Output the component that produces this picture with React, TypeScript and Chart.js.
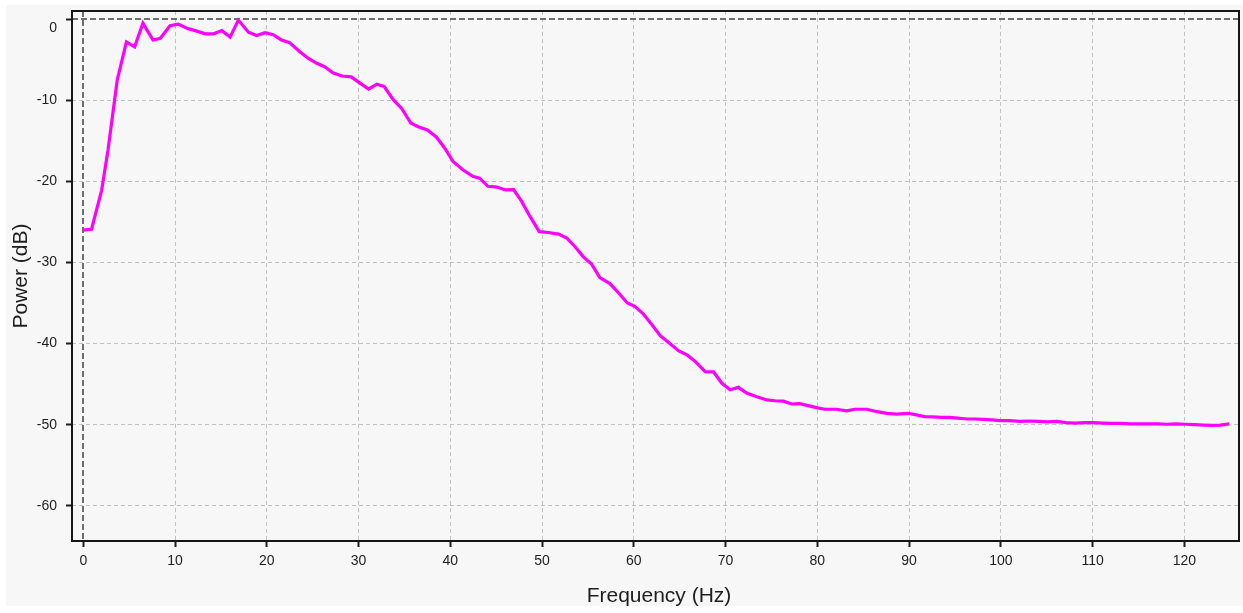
import { useEffect, useRef } from "react";
import { Chart, registerables } from "chart.js";

Chart.register(...registerables);

// Power spectrum: frequency bins (Hz) and their power (dB)
const frequencyHz = [
  0, 0.9, 2.0, 2.7, 3.7, 4.7, 5.6, 6.5, 7.6, 8.4, 9.45, 10.35, 11.3, 12.2, 13.3, 14.2,
  15.1, 16.0, 16.9, 18.0, 18.9, 19.8, 20.7, 21.6, 22.5, 23.6, 24.5, 25.4, 26.3, 27.2,
  28.2, 29.2, 30.2, 31.1, 32.0, 32.8, 33.8, 34.7, 35.7, 36.5, 37.5, 38.5, 39.4, 40.3,
  41.4, 42.5, 43.2, 44.1, 45.1, 46.0, 46.9, 47.8, 48.7, 49.7, 50.7, 51.8, 52.7, 53.6,
  54.5, 55.4, 56.3, 57.4, 58.3, 59.3, 60.1, 61.0, 62.0, 62.9, 63.9, 64.9, 65.8, 66.7,
  67.8, 68.7, 69.6, 70.5, 71.4, 72.3, 73.4, 74.5, 75.4, 76.3, 77.2, 78.1, 79.0, 79.9,
  80.8, 82.1, 83.2, 84.1, 85.4, 86.5, 87.6, 88.65, 89.9, 90.8, 91.7, 92.6, 93.5, 94.4,
  95.3, 96.3, 97.2, 98.1, 99.0, 99.9, 100.9, 102.1, 103.1, 104.1, 105.1, 106.1, 107.1,
  108.1, 109.1, 110.1, 111.1, 112.1, 113.1, 114.1, 115.1, 116.1, 117.1, 118.1, 119.1,
  120.1, 121.1, 122.1, 123.0, 123.9, 124.9,
];

const powerDb = [
  -26.0, -25.9, -21.1, -16.1, -7.5, -2.8, -3.4, -0.5, -2.55, -2.35, -0.8, -0.6, -1.1, -1.4,
  -1.8, -1.8, -1.4, -2.2, -0.1, -1.6, -2.0, -1.65, -1.9, -2.55, -2.9, -4.0, -4.8, -5.4,
  -5.85, -6.6, -7.0, -7.1, -7.9, -8.6, -8.0, -8.3, -9.95, -11.0, -12.8, -13.25, -13.65,
  -14.55, -15.9, -17.55, -18.6, -19.4, -19.6, -20.6, -20.7, -21.05, -21.0, -22.5, -24.35,
  -26.2, -26.3, -26.5, -27.0, -28.05, -29.3, -30.2, -31.85, -32.6, -33.7, -35.0, -35.4,
  -36.3, -37.7, -39.05, -39.95, -40.9, -41.4, -42.2, -43.5, -43.5, -44.9, -45.7, -45.4,
  -46.1, -46.55, -46.95, -47.05, -47.1, -47.45, -47.4, -47.65, -47.9, -48.1, -48.1, -48.3,
  -48.1, -48.1, -48.4, -48.6, -48.7, -48.6, -48.8, -49.0, -49.05, -49.1, -49.1, -49.2,
  -49.3, -49.3, -49.35, -49.4, -49.5, -49.5, -49.6, -49.55, -49.6, -49.65, -49.6, -49.75,
  -49.8, -49.75, -49.75, -49.8, -49.85, -49.85, -49.9, -49.9, -49.9, -49.9, -49.95, -49.9,
  -49.95, -50.0, -50.05, -50.1, -50.05, -49.9,
];

const xTickValues = [0, 10, 20, 30, 40, 50, 60, 70, 80, 90, 100, 110, 120];
const yTickValues = [0, -10, -20, -30, -40, -50, -60];

const xTitle = "Frequency (Hz)";
const yTitle = "Power (dB)";

const FONT = "'Liberation Sans', Arial, sans-serif";

const chromePlugin = {
  id: "spectrumChrome",
  beforeDraw(chart: any) {
    const { ctx, width, height } = chart;
    ctx.save();
    ctx.fillStyle = "#ffffff";
    ctx.fillRect(0, 0, width, height);
    ctx.fillStyle = "#f7f7f7";
    ctx.fillRect(6, 5, width - 6, height - 12);
    ctx.restore();
  },
  beforeDatasetsDraw(chart: any) {
    // darker dashed lines through the origin
    const { ctx, chartArea, scales } = chart;
    const x0 = Math.round(scales.x.getPixelForValue(0));
    const y0 = Math.round(scales.y.getPixelForValue(0));
    ctx.save();
    ctx.strokeStyle = "#6e6e6e";
    ctx.lineWidth = 2;
    ctx.setLineDash([6, 3]);
    ctx.beginPath();
    ctx.moveTo(x0, chartArea.top);
    ctx.lineTo(x0, chartArea.bottom);
    ctx.moveTo(chartArea.left, y0);
    ctx.lineTo(chartArea.right, y0);
    ctx.stroke();
    ctx.restore();
  },
  afterDraw(chart: any) {
    const { ctx, chartArea } = chart;
    ctx.save();
    ctx.strokeStyle = "#151515";
    ctx.lineWidth = 2;
    ctx.strokeRect(
      chartArea.left,
      chartArea.top,
      chartArea.right - chartArea.left,
      chartArea.bottom - chartArea.top
    );
    ctx.fillStyle = "#1e1e1e";
    ctx.textAlign = "center";
    ctx.textBaseline = "middle";
    ctx.font = `21px ${FONT}`;
    ctx.fillText(xTitle, 659, 596);
    ctx.translate(21, 276);
    ctx.rotate(-Math.PI / 2);
    ctx.fillText(yTitle, 0, 0);
    ctx.restore();
  },
};

export default function App() {
  const canvasRef = useRef<HTMLCanvasElement | null>(null);

  useEffect(() => {
    const canvas = canvasRef.current;
    if (!canvas) return;
    const gridColor = (c: any) =>
      c.tick && c.tick.value === 0 ? "rgba(0,0,0,0)" : "#c2c2c2";

    const chart = new Chart(canvas, {
      type: "line",
      data: {
        datasets: [
          {
            data: frequencyHz.map((f, i) => ({ x: f, y: powerDb[i] })),
            borderColor: "#ff00ff",
            borderWidth: 3.2,
            pointRadius: 0,
            tension: 0,
            fill: false,
          },
        ],
      },
      options: {
        animation: false,
        responsive: false,
        devicePixelRatio: 1,
        parsing: false,
        layout: { padding: { left: 0, top: 11, right: 4, bottom: 0 } },
        plugins: {
          legend: { display: false },
          tooltip: { enabled: false },
        },
        scales: {
          x: {
            type: "linear",
            min: -1.23,
            max: 125.96,
            afterBuildTicks: (s: any) => {
              s.ticks = xTickValues.map((v) => ({ value: v }));
            },
            afterFit: (s: any) => {
              s.height = 72;
              s.paddingLeft = 0;
              s.paddingRight = 0;
            },
            ticks: {
              autoSkip: false,
              maxRotation: 0,
              padding: 6,
              color: "#1e1e1e",
              font: { family: FONT, size: 14 },
              callback: (v: any) => String(v),
            },
            grid: {
              color: gridColor,
              lineWidth: 1,
              tickLength: 6,
              tickColor: "#1e1e1e",
              tickWidth: 2,
            },
            border: { display: false, dash: [4, 3] },
          },
          y: {
            type: "linear",
            min: -64.35,
            max: 1.02,
            afterBuildTicks: (s: any) => {
              s.ticks = yTickValues.map((v) => ({ value: v }));
            },
            afterFit: (s: any) => {
              s.width = 72;
              s.paddingTop = 0;
              s.paddingBottom = 0;
            },
            ticks: {
              autoSkip: false,
              padding: 9,
              color: "#1e1e1e",
              font: { family: FONT, size: 14 },
              // the top label sits just below its tick so it stays inside the frame
              callback: (v: any) => (Number(v) === 0 ? ["", "0"] : String(v)),
            },
            grid: {
              color: gridColor,
              lineWidth: 1,
              tickLength: 6,
              tickColor: "#1e1e1e",
              tickWidth: 2,
            },
            border: { display: false, dash: [4, 3] },
          },
        },
      },
      plugins: [chromePlugin],
    });

    return () => chart.destroy();
  }, []);

  return (
    <div style={{ position: "absolute", left: 0, top: 0, width: 1243, height: 613 }}>
      <canvas ref={canvasRef} width={1243} height={613} />
    </div>
  );
}
